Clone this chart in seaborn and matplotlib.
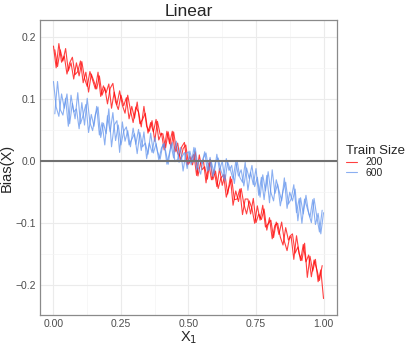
import numpy as np
import pandas as pd
import matplotlib
matplotlib.use("Agg")
import matplotlib.pyplot as plt
import seaborn as sns
from matplotlib.ticker import MultipleLocator

# two interleaved x grids (X_1)
x_a = np.round(np.arange(0, 101) / 100, 3)
x_b = np.round(np.arange(0, 100) / 100 + 0.005, 3)

# bias, train size 200
bias_200_a = [0.185, 0.150, 0.189, 0.159, 0.169, 0.140, 0.158, 0.167, 0.139, 0.144,
              0.161, 0.126, 0.143, 0.111, 0.140, 0.128, 0.116, 0.137, 0.106, 0.118,
              0.092, 0.117, 0.125, 0.095, 0.083, 0.106, 0.089, 0.102, 0.068, 0.088,
              0.069, 0.095, 0.060, 0.067, 0.077, 0.045, 0.062, 0.047, 0.067, 0.034,
              0.045, 0.018, 0.048, 0.028, 0.048, 0.015, 0.029, 0.000, 0.020, 0.026,
              -0.005, 0.003, 0.011, -0.023, 0.010, -0.014, -0.009, -0.029, 0.003, -0.030,
              -0.016, -0.044, -0.027, -0.022, -0.058, -0.042, -0.029, -0.062, -0.061, -0.045,
              -0.086, -0.061, -0.061, -0.085, -0.060, -0.099, -0.085, -0.094, -0.077, -0.111,
              -0.091, -0.125, -0.103, -0.100, -0.122, -0.135, -0.107, -0.127, -0.121, -0.158,
              -0.120, -0.149, -0.160, -0.132, -0.187, -0.153, -0.177, -0.158, -0.194, -0.175,
              -0.221]
bias_200_b = [0.179, 0.152, 0.179, 0.161, 0.181, 0.145, 0.158, 0.132, 0.158, 0.137,
              0.160, 0.133, 0.120, 0.144, 0.130, 0.116, 0.143, 0.104, 0.121, 0.110,
              0.124, 0.085, 0.111, 0.091, 0.113, 0.090, 0.077, 0.106, 0.082, 0.062,
              0.087, 0.079, 0.055, 0.088, 0.056, 0.048, 0.065, 0.032, 0.064, 0.043,
              0.044, 0.021, 0.047, 0.021, 0.047, 0.018, 0.008, 0.023, 0.030, -0.006,
              0.008, -0.006, 0.015, -0.024, -0.002, 0.002, -0.035, -0.003, -0.030, -0.014,
              -0.041, -0.012, -0.039, -0.022, -0.053, -0.025, -0.071, -0.048, -0.065, -0.044,
              -0.069, -0.085, -0.064, -0.076, -0.100, -0.072, -0.095, -0.071, -0.106, -0.101,
              -0.095, -0.123, -0.098, -0.118, -0.098, -0.129, -0.144, -0.121, -0.117, -0.148,
              -0.138, -0.160, -0.134, -0.162, -0.151, -0.186, -0.159, -0.174, -0.192, -0.168]

# bias, train size 600
bias_600_a = [0.128, 0.087, 0.072, 0.108, 0.085, 0.108, 0.060, 0.093, 0.068, 0.110,
              0.060, 0.074, 0.091, 0.046, 0.075, 0.056, 0.088, 0.042, 0.062, 0.026,
              0.073, 0.047, 0.078, 0.033, 0.058, 0.026, 0.048, 0.055, 0.026, 0.035,
              0.044, 0.012, 0.046, 0.023, 0.029, 0.011, 0.045, 0.013, 0.028, 0.002,
              0.021, 0.029, -0.005, 0.014, 0.030, -0.001, 0.003, 0.022, -0.016, 0.012,
              0.015, -0.006, 0.022, -0.014, 0.002, -0.004, 0.015, -0.016, 0.006, -0.025,
              -0.001, 0.005, -0.015, -0.027, 0.004, -0.015, -0.007, -0.036, 0.001, -0.026,
              -0.034, -0.002, -0.047, -0.018, -0.038, -0.012, -0.055, -0.026, -0.062, -0.023,
              -0.067, -0.014, -0.052, -0.037, -0.072, -0.048, -0.034, -0.069, -0.061, -0.038,
              -0.083, -0.060, -0.100, -0.061, -0.076, -0.090, -0.062, -0.102, -0.084, -0.117,
              -0.083]
bias_600_b = [0.076, 0.128, 0.083, 0.074, 0.101, 0.056, 0.106, 0.079, 0.084, 0.052,
              0.094, 0.058, 0.101, 0.062, 0.049, 0.075, 0.087, 0.038, 0.061, 0.044,
              0.084, 0.023, 0.058, 0.065, 0.014, 0.063, 0.032, 0.049, 0.023, 0.053,
              0.027, 0.051, 0.017, 0.047, 0.004, 0.029, 0.014, 0.038, 0.016, 0.003,
              0.027, 0.017, -0.005, 0.027, 0.005, 0.032, -0.002, 0.006, 0.014, -0.012,
              0.016, -0.002, 0.021, -0.009, -0.021, 0.005, 0.013, -0.015, -0.002, -0.020,
              0.011, -0.015, 0.000, -0.032, -0.001, -0.014, -0.029, -0.001, -0.024, -0.014,
              -0.040, -0.011, -0.028, -0.007, -0.041, -0.026, -0.058, -0.022, -0.048, -0.017,
              -0.050, -0.064, -0.030, -0.047, -0.064, -0.027, -0.076, -0.050, -0.064, -0.045,
              -0.096, -0.059, -0.085, -0.055, -0.084, -0.099, -0.060, -0.089, -0.114, -0.079]

train_sizes = ["200", "600"]
palette = {"200": "#FF0000", "600": "#6495ED"}

df = pd.concat([
    pd.DataFrame({"X1": x_a, "Bias": bias_200_a, "Train Size": "200", "run": "a"}),
    pd.DataFrame({"X1": x_b, "Bias": bias_200_b, "Train Size": "200", "run": "b"}),
    pd.DataFrame({"X1": x_a, "Bias": bias_600_a, "Train Size": "600", "run": "a"}),
    pd.DataFrame({"X1": x_b, "Bias": bias_600_b, "Train Size": "600", "run": "b"}),
], ignore_index=True)

sns.set_theme(style="white")
plt.rcParams["font.family"] = ["Liberation Sans", "DejaVu Sans"]

fig = plt.figure(figsize=(4.12, 3.47), dpi=100)
ax = fig.add_axes([0.097, 0.092, 0.721, 0.850])

sns.lineplot(data=df, x="X1", y="Bias", hue="Train Size", hue_order=train_sizes,
             units="run", estimator=None, palette=palette, linewidth=0.8,
             alpha=0.75, ax=ax)

ax.axhline(0, color="#707070", linewidth=1.5, zorder=3)

ax.set_xlim(-0.05, 1.05)
ax.set_ylim(-0.2476, 0.2267)
ax.xaxis.set_minor_locator(MultipleLocator(0.125))
ax.yaxis.set_minor_locator(MultipleLocator(0.05))
ax.set_xticks([0, 0.25, 0.5, 0.75, 1.0])
ax.set_xticklabels(["0.00", "0.25", "0.50", "0.75", "1.00"])
ax.set_yticks([-0.2, -0.1, 0.0, 0.1, 0.2])
ax.set_yticklabels(["\u22120.2", "\u22120.1", "0.0", "0.1", "0.2"])
ax.grid(which="major", color="#EBEBEB", linewidth=0.8)
ax.grid(which="minor", color="#F4F4F4", linewidth=0.5)
ax.set_axisbelow(True)
ax.tick_params(axis="both", labelsize=7.5, labelcolor="#4D4D4D", length=0, pad=3)

for s in ax.spines.values():
    s.set_color("#8A8A8A")
    s.set_linewidth(0.9)

ax.set_title("Linear", fontsize=12.5, pad=3)
ax.set_xlabel("X$_1$", fontsize=10.5, labelpad=0)
ax.set_ylabel("Bias(X)", fontsize=10.5, labelpad=1)

handles, labels = ax.get_legend_handles_labels()
ax.get_legend().remove()
leg = fig.legend(handles, labels, title="Train Size", loc="center left",
                 bbox_to_anchor=(0.83, 0.535), frameon=False, fontsize=7.5,
                 title_fontsize=9.5, handlelength=1.0, handletextpad=0.9,
                 labelspacing=0.05, borderaxespad=0)
leg._legend_box.align = "left"

fig.savefig("out.png", dpi=100)
